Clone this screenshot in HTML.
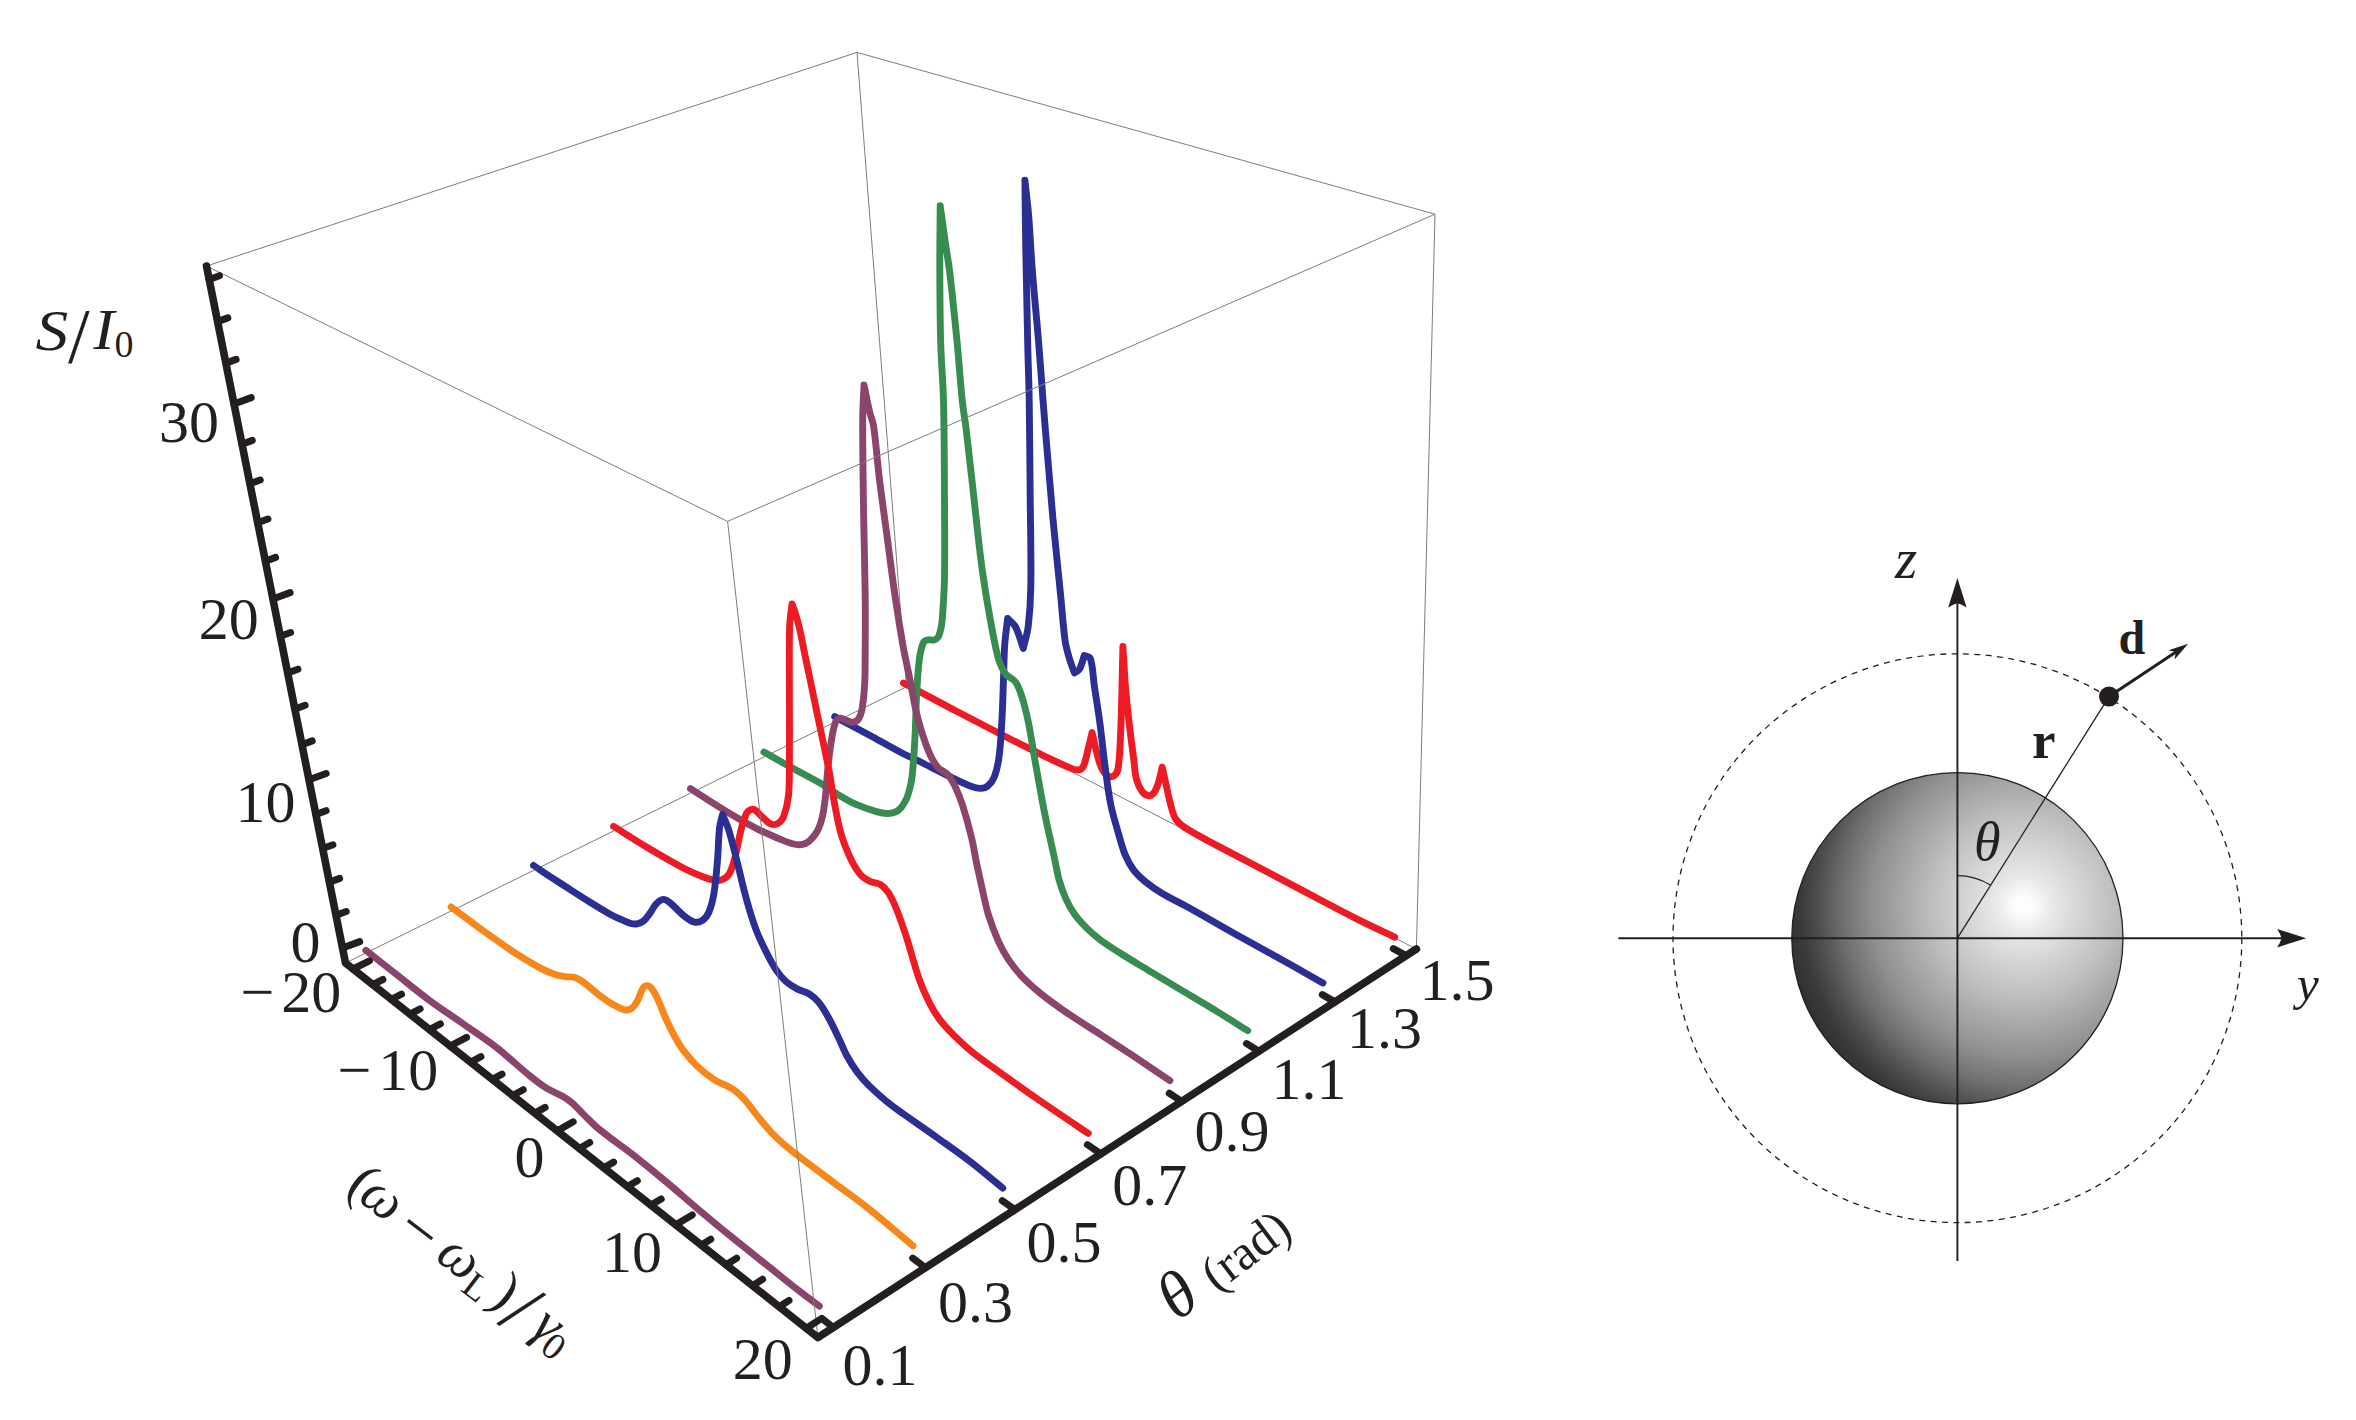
<!DOCTYPE html>
<html><head><meta charset="utf-8"><title>Figure</title>
<style>html,body{margin:0;padding:0;background:#fff;}svg{display:block;}</style>
</head><body>
<svg width="2356" height="1420" viewBox="0 0 2356 1420">
<rect width="2356" height="1420" fill="#ffffff"/>
<g id="boxback" fill="none">
<line x1="206.5" y1="266.0" x2="857.0" y2="52.4" stroke="#7d7d7d" stroke-width="1" />
<line x1="857.0" y1="52.4" x2="1435.0" y2="214.2" stroke="#7d7d7d" stroke-width="1" />
<line x1="857.0" y1="52.4" x2="906.5" y2="686.8" stroke="#7d7d7d" stroke-width="1" />
<line x1="1435.0" y1="214.2" x2="1416.4" y2="949.0" stroke="#7d7d7d" stroke-width="1" />
<line x1="345.5" y1="963.0" x2="906.5" y2="686.8" stroke="#7d7d7d" stroke-width="1" />
<line x1="906.5" y1="686.8" x2="1416.4" y2="949.0" stroke="#7d7d7d" stroke-width="1" />
</g>
<g id="curves" fill="none" stroke-width="6.9" stroke-linecap="round" stroke-linejoin="round">
<path d="M903.4 683.0C920.0 691.9 936.6 700.8 953.3 709.6C971.5 719.2 989.8 728.6 1008.2 738.0C1020.3 744.2 1032.5 750.3 1044.8 756.3C1052.7 760.1 1060.5 764.0 1068.6 767.3C1071.5 768.5 1074.9 770.2 1077.8 770.0C1079.8 769.9 1082.4 768.3 1083.3 766.4C1085.7 761.6 1086.5 755.4 1087.9 749.9C1089.4 744.1 1090.7 738.3 1092.1 732.5C1093.4 738.3 1094.6 744.2 1096.1 749.9C1097.7 756.1 1098.9 762.6 1101.6 768.2C1103.2 771.4 1106.1 774.8 1108.9 776.4C1110.3 777.2 1113.2 776.6 1114.4 775.5C1116.2 773.9 1117.7 770.9 1118.1 768.2C1119.6 759.3 1119.8 749.9 1120.3 740.7C1121.1 725.4 1121.4 710.2 1121.8 694.9C1122.2 678.7 1122.5 662.6 1122.9 646.4C1123.7 659.5 1124.3 672.7 1125.4 685.8C1126.4 698.0 1127.7 710.2 1129.1 722.4C1130.5 734.6 1132.1 746.8 1133.7 759.0C1134.6 765.7 1134.7 772.7 1136.4 779.2C1137.5 783.4 1139.4 787.7 1141.9 791.1C1143.4 793.2 1146.1 795.4 1148.3 795.7C1150.0 796.0 1152.6 794.4 1153.8 792.9C1156.0 790.2 1157.3 786.4 1158.4 782.9C1160.1 777.7 1160.9 772.3 1162.2 767.0C1163.4 772.3 1164.5 777.6 1165.7 782.9C1167.3 789.9 1168.6 797.1 1170.5 804.0C1171.9 809.2 1172.9 814.9 1175.8 819.2C1178.6 823.3 1183.2 826.6 1187.6 829.3C1198.4 836.1 1210.1 841.8 1221.4 847.9C1243.9 859.9 1266.5 871.6 1289.0 883.4C1311.6 895.2 1334.0 907.3 1356.7 918.9C1369.2 925.3 1382.0 931.1 1394.7 937.2" stroke="#ED1C24"/>
<path d="M834.7 716.6C846.3 722.8 858.0 728.9 869.6 735.2C880.4 741.1 891.0 747.3 901.9 753.0C906.7 755.5 911.7 757.6 916.6 760.0C928.9 766.0 941.0 772.4 953.3 778.3C959.3 781.2 965.4 784.2 971.6 786.5C974.5 787.6 977.7 788.6 980.7 788.4C983.2 788.3 986.2 787.3 988.1 785.6C990.8 783.3 993.2 779.8 994.5 776.4C996.8 770.4 998.1 763.7 999.0 757.2C1000.6 745.7 1001.1 734.0 1001.8 722.4C1002.7 707.1 1003.0 691.9 1003.6 676.6C1004.0 666.5 1003.9 656.4 1004.6 646.4C1005.2 637.1 1006.6 627.8 1007.6 618.5C1010.2 621.2 1013.7 623.4 1015.4 626.7C1018.9 633.4 1020.7 641.2 1023.3 648.4C1024.9 641.2 1027.3 634.0 1028.2 626.7C1029.8 613.7 1030.6 600.5 1030.8 587.3C1031.3 557.8 1030.5 528.2 1030.2 498.6C1029.9 465.7 1029.7 432.9 1029.2 400.0C1028.9 381.0 1028.1 362.1 1027.7 343.1C1027.0 312.6 1026.3 282.1 1025.8 251.6C1025.4 227.8 1025.2 203.9 1024.9 180.1C1026.1 191.7 1027.6 203.3 1028.6 214.9C1030.1 233.2 1030.9 251.6 1032.3 269.9C1034.2 294.3 1036.7 318.7 1038.7 343.1C1040.3 362.1 1041.5 381.0 1043.0 400.0C1044.3 416.4 1045.6 432.9 1047.0 449.3C1048.9 472.3 1050.8 495.3 1052.9 518.3C1055.4 544.6 1058.2 570.8 1060.8 597.1C1062.2 611.4 1063.1 625.8 1065.0 640.0C1065.7 645.5 1067.2 650.9 1068.7 656.2C1070.3 661.9 1072.5 667.4 1074.4 673.0C1076.1 671.7 1078.5 670.9 1079.5 669.1C1081.8 665.1 1082.7 660.0 1084.3 655.5C1086.3 656.6 1089.7 656.7 1090.4 658.7C1093.1 666.8 1093.0 676.8 1094.3 685.8C1096.1 698.0 1098.2 710.2 1099.8 722.4C1101.8 737.6 1103.3 753.0 1105.3 768.2C1106.9 780.4 1108.4 792.7 1110.8 804.8C1112.7 814.1 1115.5 823.2 1118.1 832.3C1120.3 839.8 1122.1 847.5 1125.1 854.7C1127.3 860.0 1130.1 865.3 1133.5 869.9C1136.8 874.3 1141.1 878.2 1145.4 881.7C1150.7 886.0 1156.4 890.0 1162.3 893.5C1170.5 898.4 1179.2 902.4 1187.6 907.1C1204.6 916.5 1221.3 926.3 1238.3 935.8C1255.1 945.2 1272.2 954.3 1289.0 963.7C1300.4 970.1 1311.6 976.6 1322.9 983.1" stroke="#2B2E92"/>
<path d="M763.9 752.1C772.1 756.7 780.3 761.4 788.6 766.0C799.4 771.9 810.4 777.4 821.0 783.5C826.5 786.7 831.5 790.7 837.0 794.0C843.4 797.8 849.9 801.7 856.7 804.7C863.0 807.5 869.7 809.7 876.4 811.6C880.2 812.7 884.3 813.7 888.2 813.5C891.6 813.3 895.5 812.6 898.1 810.6C901.5 808.0 904.0 803.6 906.0 799.7C907.9 796.1 908.8 791.9 909.9 787.9C910.8 784.5 911.6 780.9 912.0 777.4C913.3 765.2 914.1 752.9 914.8 740.7C915.7 725.4 915.8 710.2 916.6 694.9C917.1 685.7 917.6 676.4 918.5 667.2C919.0 661.8 919.6 656.3 920.8 651.0C921.5 647.7 922.4 644.1 924.1 641.5C924.8 640.4 926.6 640.0 928.0 639.8C929.9 639.5 932.2 640.5 934.0 640.0C935.6 639.6 937.3 638.4 938.2 637.0C939.6 634.7 940.2 631.7 940.8 629.0C941.7 625.0 942.2 620.9 942.5 616.8C943.4 603.7 944.3 590.5 944.5 577.4C944.9 551.1 944.6 524.9 944.5 498.6C944.3 465.7 944.3 432.9 943.5 400.0C943.0 381.0 941.2 362.1 940.7 343.1C940.0 318.7 939.9 294.3 939.8 269.9C939.7 248.5 940.1 227.2 940.2 205.8C941.9 218.0 943.6 230.2 945.3 242.4C946.8 252.8 948.7 263.1 949.9 273.5C952.6 296.7 954.9 319.9 957.2 343.1C959.0 362.0 960.2 381.1 962.2 400.0C963.2 409.9 965.0 419.7 966.2 429.6C969.0 452.6 971.4 475.6 974.0 498.6C976.6 521.6 978.8 544.6 981.9 567.5C984.1 584.0 986.9 600.4 989.8 616.8C992.1 630.0 994.6 643.2 997.7 656.2C998.7 660.3 1000.2 664.2 1002.0 668.0C1003.1 670.4 1004.6 672.9 1006.4 674.8C1009.1 677.6 1013.3 679.0 1015.5 682.1C1018.5 686.3 1020.3 691.7 1021.9 696.8C1024.6 705.2 1026.6 713.8 1028.4 722.4C1031.2 736.3 1033.2 750.5 1035.7 764.5C1038.7 781.0 1041.5 797.6 1044.8 814.0C1047.6 828.1 1051.0 842.1 1054.0 856.1C1055.8 864.2 1057.0 872.4 1059.2 880.3C1061.0 886.6 1063.2 892.9 1065.9 898.9C1068.3 904.2 1071.1 909.4 1074.4 914.1C1077.8 919.0 1082.0 923.4 1086.2 927.6C1090.4 931.8 1095.0 935.8 1099.8 939.4C1106.3 944.3 1113.1 948.6 1120.0 953.0C1130.0 959.4 1140.3 965.4 1150.5 971.6C1161.7 978.4 1173.0 985.1 1184.3 991.9C1195.6 998.6 1206.9 1005.2 1218.1 1012.1C1228.0 1018.2 1237.8 1024.5 1247.7 1030.7" stroke="#388C52"/>
<path d="M690.5 788.7C699.9 794.7 709.2 800.7 718.6 806.6C725.1 810.7 731.7 814.7 738.3 818.5C744.8 822.2 751.4 825.9 758.1 829.3C764.5 832.5 771.2 835.4 777.8 838.2C782.3 840.1 786.9 842.2 791.6 843.5C794.8 844.4 798.3 845.1 801.5 844.7C804.2 844.3 807.2 842.9 809.3 841.1C812.4 838.4 815.2 834.9 817.2 831.3C819.5 827.1 821.0 822.2 822.2 817.5C823.7 811.7 824.4 805.7 825.1 799.7C826.4 787.9 827.0 776.1 828.3 764.3C829.2 756.2 830.1 748.0 831.5 740.0C832.5 734.0 833.3 727.6 835.5 722.2C836.3 720.3 838.6 718.5 840.4 718.2C842.4 717.9 844.7 719.9 846.9 720.6C849.0 721.3 851.4 722.6 853.4 722.2C855.4 721.8 857.9 720.1 859.0 718.2C860.8 715.2 861.7 711.3 862.3 707.7C863.6 699.7 864.3 691.5 864.7 683.4C865.3 671.1 865.1 658.7 865.2 646.4C865.3 630.0 865.4 613.5 865.2 597.1C864.9 570.8 864.1 544.6 863.7 518.3C863.2 485.4 862.6 452.6 862.7 419.7C862.7 408.1 863.6 396.6 864.0 385.0C865.9 393.9 867.5 402.9 869.6 411.8C870.7 416.5 872.8 420.9 873.5 425.6C876.1 443.2 877.2 461.1 879.4 478.8C881.8 498.6 884.7 518.3 887.3 538.0C889.9 557.7 892.3 577.4 895.2 597.1C897.6 613.6 900.2 630.0 903.1 646.4C904.9 656.5 907.3 666.5 909.3 676.6C911.8 688.8 913.7 701.2 916.6 713.3C918.6 721.9 921.2 730.5 924.0 738.9C926.1 745.1 928.4 751.4 931.3 757.2C933.3 761.1 935.6 765.1 938.6 768.2C941.1 770.9 945.4 771.9 947.8 774.6C950.9 778.0 953.1 782.3 955.1 786.5C957.9 792.4 960.4 798.6 962.4 804.8C965.9 815.7 968.9 826.7 971.6 837.8C973.6 846.1 974.8 854.6 976.5 863.0C978.2 871.0 980.0 879.0 981.8 887.0C983.9 896.0 985.5 905.2 988.2 914.1C991.0 923.3 994.4 932.3 998.3 941.1C1001.2 947.5 1004.6 953.8 1008.5 959.7C1012.5 965.7 1017.1 971.4 1022.0 976.6C1027.8 982.7 1034.1 988.2 1040.6 993.5C1048.7 1000.1 1057.3 1006.2 1065.9 1012.1C1077.0 1019.7 1088.5 1026.8 1099.8 1034.1C1111.1 1041.4 1122.4 1048.7 1133.6 1056.1C1145.8 1064.2 1157.8 1072.4 1169.9 1080.6" stroke="#8B456D"/>
<path d="M613.6 826.4C624.6 833.3 635.4 840.4 646.5 847.0C658.6 854.2 670.8 861.4 683.2 868.0C689.1 871.1 695.3 873.8 701.5 876.3C705.6 877.9 710.0 879.5 714.3 880.3C716.7 880.7 719.4 880.8 721.6 879.9C724.3 878.8 727.3 876.9 728.9 874.4C731.6 870.2 733.0 864.8 734.4 859.8C737.3 848.9 738.9 837.7 741.8 826.8C743.2 821.8 744.6 816.2 747.3 812.2C748.5 810.4 751.8 808.8 753.7 809.4C756.7 810.3 759.1 814.3 761.9 816.7C764.9 819.2 767.7 822.8 771.1 824.1C773.2 824.9 776.5 824.4 778.4 823.2C780.8 821.7 782.9 818.6 783.9 815.8C786.2 809.5 787.8 802.5 788.5 795.7C789.6 785.3 789.3 774.8 789.4 764.3C789.6 742.7 789.4 721.2 789.4 699.6C789.4 678.0 789.2 656.4 789.4 634.8C789.5 629.4 789.7 624.0 790.2 618.6C790.6 613.7 791.5 608.9 792.1 604.0C793.4 607.8 794.8 611.5 795.9 615.3C797.4 620.1 798.8 625.0 799.9 629.9C801.7 638.0 803.1 646.1 804.8 654.2C807.5 667.2 810.2 680.1 812.9 693.1C815.6 706.0 818.3 719.0 821.0 731.9C823.7 744.9 826.6 757.8 829.1 770.8C830.9 780.5 832.1 790.3 833.9 800.0C836.0 811.1 837.8 822.4 840.9 833.3C843.4 842.1 846.9 850.7 850.8 858.9C853.5 864.5 856.6 870.1 860.6 874.7C863.2 877.7 866.9 879.8 870.5 881.6C873.5 883.1 877.6 882.8 880.4 884.5C883.5 886.4 886.2 889.4 888.2 892.4C891.4 897.3 893.9 902.8 896.1 908.2C899.8 917.2 903.0 926.5 906.0 935.8C910.6 949.9 914.0 964.3 918.9 978.3C921.7 986.4 925.2 994.3 929.0 1002.0C931.9 1007.9 935.3 1013.6 939.2 1018.9C943.2 1024.3 947.9 1029.3 952.7 1034.1C959.2 1040.6 965.9 1046.9 973.0 1052.7C981.1 1059.3 989.8 1065.2 998.3 1071.3C1011.8 1081.0 1025.3 1090.6 1038.9 1100.0C1055.3 1111.3 1071.8 1122.3 1088.3 1133.4" stroke="#ED1C24"/>
<path d="M533.6 865.5C539.6 869.5 545.6 873.6 551.7 877.6C558.0 881.7 564.4 885.8 570.7 889.9C577.0 894.0 583.3 898.1 589.7 902.0C596.0 905.9 602.3 909.8 608.7 913.4C612.8 915.7 617.1 917.7 621.4 919.7C624.5 921.1 627.6 922.7 630.9 923.5C632.9 924.0 635.2 924.2 637.2 923.8C639.4 923.4 641.8 922.4 643.6 921.0C646.1 919.0 648.0 916.0 649.9 913.4C652.2 910.3 653.6 906.6 656.2 903.9C658.1 901.9 660.8 899.6 663.2 899.4C665.4 899.2 668.0 901.2 670.0 902.8C674.8 906.6 678.7 911.6 683.5 915.5C686.6 918.0 690.1 920.9 693.7 921.9C696.3 922.6 699.9 922.0 702.1 920.6C704.9 918.8 707.5 915.4 708.9 912.1C711.4 906.3 712.9 899.8 713.9 893.5C715.8 882.1 716.6 870.5 717.6 858.9C718.5 848.4 718.4 837.8 719.6 827.3C720.1 823.0 721.5 818.8 722.5 814.5C724.5 819.4 726.9 824.2 728.5 829.3C731.5 839.0 733.9 849.0 736.4 858.9C739.8 872.0 742.6 885.3 746.2 898.3C749.1 908.9 752.3 919.6 756.1 929.9C758.9 937.3 762.4 944.5 766.0 951.6C769.0 957.6 772.1 963.7 775.8 969.3C778.6 973.6 781.9 977.8 785.7 981.2C789.2 984.4 793.4 986.9 797.5 989.1C801.2 991.1 805.8 991.7 809.3 994.0C813.0 996.3 816.5 999.5 819.2 1002.9C823.1 1007.7 826.1 1013.3 829.1 1018.7C832.7 1025.1 835.7 1031.8 838.9 1038.4C841.7 1044.2 843.9 1050.3 847.0 1056.0C850.0 1061.6 853.4 1067.0 857.2 1072.1C860.8 1076.9 864.8 1081.4 869.0 1085.6C874.3 1090.9 880.1 1096.0 885.9 1100.8C891.3 1105.3 897.1 1109.4 902.8 1113.5C914.0 1121.5 925.4 1129.2 936.6 1137.2C947.9 1145.3 959.4 1153.2 970.4 1161.7C981.4 1170.2 992.0 1179.3 1002.8 1188.1" stroke="#2B2E92"/>
<path d="M451.1 907.0C461.0 914.3 470.7 921.8 480.7 929.0C491.9 937.0 503.0 945.1 514.5 952.7C522.7 958.1 531.2 963.2 539.9 967.9C544.8 970.5 549.9 972.8 555.1 974.6C558.3 975.7 561.8 976.2 565.2 976.7C568.0 977.1 571.0 976.5 573.7 977.2C576.7 978.0 579.5 979.6 582.1 981.4C588.0 985.5 593.2 990.6 599.0 994.9C603.4 998.2 607.8 1001.4 612.5 1004.2C616.3 1006.4 620.3 1008.8 624.4 1009.8C626.5 1010.3 629.3 1009.9 631.1 1008.8C633.5 1007.2 635.5 1004.3 637.0 1001.7C639.4 997.5 640.5 992.2 643.0 988.2C643.9 986.9 645.8 985.6 647.2 985.6C648.6 985.6 650.4 986.9 651.4 988.2C653.8 991.2 655.6 994.8 657.3 998.3C660.7 1005.5 663.3 1013.1 666.6 1020.3C669.2 1026.0 672.0 1031.7 675.1 1037.2C677.7 1041.8 680.3 1046.5 683.5 1050.7C687.6 1056.1 692.1 1061.3 697.0 1065.9C702.2 1070.8 707.9 1075.5 713.9 1079.4C720.2 1083.5 727.6 1085.7 733.8 1089.9C738.2 1092.9 742.0 1096.8 745.6 1100.8C749.9 1105.6 753.4 1111.1 757.5 1116.1C761.9 1121.5 766.2 1127.0 771.0 1132.1C775.2 1136.6 779.8 1140.8 784.5 1144.8C790.0 1149.5 795.7 1153.9 801.4 1158.3C812.6 1166.9 823.9 1175.2 835.2 1183.7C846.5 1192.1 858.0 1200.2 869.0 1209.0C883.9 1220.9 898.3 1233.6 913.0 1245.9" stroke="#F6871A"/>
<path d="M365.8 950.3C375.6 958.0 385.3 965.7 395.1 973.4C406.4 982.2 417.4 991.4 428.9 999.9C439.9 1008.1 451.5 1015.6 462.7 1023.5C474.0 1031.5 485.6 1039.0 496.5 1047.5C508.0 1056.5 518.6 1066.8 530.0 1076.0C535.4 1080.4 541.0 1084.7 546.9 1088.4C552.3 1091.7 558.4 1093.8 563.8 1097.0C566.8 1098.8 569.6 1100.9 572.3 1103.2C575.3 1105.8 577.9 1108.7 580.7 1111.5C583.5 1114.3 586.3 1117.2 589.2 1120.0C592.0 1122.7 594.6 1125.5 597.6 1128.0C603.1 1132.5 608.8 1136.7 614.5 1141.0C620.1 1145.2 625.9 1149.2 631.4 1153.5C642.8 1162.5 654.1 1171.7 665.2 1181.0C676.1 1190.1 686.7 1199.6 697.6 1208.8C708.8 1218.2 720.1 1227.6 731.4 1236.8C742.6 1245.9 753.9 1254.8 765.2 1263.8C776.5 1272.8 787.6 1281.9 799.0 1290.8C805.7 1296.0 812.5 1301.0 819.3 1306.1" stroke="#8B456D"/>
</g>
<line x1="727.6" y1="521.4" x2="817.9" y2="1337.5" stroke="#7d7d7d" stroke-width="1" />
<line x1="1435.0" y1="214.2" x2="727.6" y2="521.4" stroke="#7d7d7d" stroke-width="1" />
<line x1="727.6" y1="521.4" x2="206.5" y2="266.0" stroke="#7d7d7d" stroke-width="1" />
<g id="ticks" stroke="#231F20" stroke-width="7" stroke-linecap="round">
<line x1="342.5" y1="948.0" x2="359.7" y2="941.6"/>
<line x1="336.0" y1="915.3" x2="346.2" y2="911.5"/>
<line x1="329.4" y1="882.2" x2="339.6" y2="878.4"/>
<line x1="322.7" y1="848.5" x2="332.9" y2="844.8"/>
<line x1="315.9" y1="814.4" x2="326.1" y2="810.7"/>
<line x1="309.0" y1="779.8" x2="326.1" y2="773.5"/>
<line x1="302.0" y1="744.7" x2="312.2" y2="740.9"/>
<line x1="294.9" y1="709.1" x2="305.1" y2="705.3"/>
<line x1="287.7" y1="672.9" x2="297.9" y2="669.2"/>
<line x1="280.3" y1="636.2" x2="290.6" y2="632.5"/>
<line x1="272.9" y1="599.0" x2="290.1" y2="592.6"/>
<line x1="265.4" y1="561.2" x2="275.6" y2="557.4"/>
<line x1="257.7" y1="522.8" x2="267.9" y2="519.0"/>
<line x1="249.9" y1="483.8" x2="260.2" y2="480.0"/>
<line x1="242.0" y1="444.2" x2="252.3" y2="440.4"/>
<line x1="234.0" y1="404.0" x2="251.2" y2="397.6"/>
<line x1="225.9" y1="363.1" x2="236.1" y2="359.4"/>
<line x1="217.6" y1="321.6" x2="227.8" y2="317.9"/>
<line x1="209.2" y1="279.5" x2="219.4" y2="275.7"/>
<line x1="353.0" y1="969.0" x2="369.4" y2="960.9"/>
<line x1="372.7" y1="984.6" x2="382.9" y2="979.5"/>
<line x1="391.3" y1="999.3" x2="401.5" y2="994.2"/>
<line x1="410.0" y1="1014.1" x2="420.1" y2="1008.9"/>
<line x1="429.4" y1="1029.5" x2="440.4" y2="1023.8"/>
<line x1="450.2" y1="1046.0" x2="466.6" y2="1037.3"/>
<line x1="470.7" y1="1062.2" x2="480.9" y2="1056.7"/>
<line x1="492.3" y1="1079.4" x2="502.0" y2="1074.1"/>
<line x1="512.7" y1="1095.5" x2="523.2" y2="1089.7"/>
<line x1="534.9" y1="1113.1" x2="545.1" y2="1107.4"/>
<line x1="557.3" y1="1130.9" x2="573.2" y2="1121.8"/>
<line x1="579.4" y1="1148.5" x2="589.7" y2="1142.5"/>
<line x1="603.8" y1="1167.8" x2="613.6" y2="1162.1"/>
<line x1="627.4" y1="1186.5" x2="637.3" y2="1180.7"/>
<line x1="650.9" y1="1205.1" x2="661.2" y2="1199.0"/>
<line x1="675.8" y1="1224.8" x2="692.2" y2="1214.9"/>
<line x1="701.3" y1="1245.0" x2="710.8" y2="1239.2"/>
<line x1="726.1" y1="1264.7" x2="736.6" y2="1258.2"/>
<line x1="752.5" y1="1285.7" x2="762.6" y2="1279.3"/>
<line x1="779.2" y1="1306.8" x2="789.0" y2="1300.5"/>
<line x1="806.3" y1="1328.3" x2="821.7" y2="1318.4"/>
<line x1="833.3" y1="1327.5" x2="822.9" y2="1319.3"/>
<line x1="925.5" y1="1267.7" x2="912.7" y2="1258.1"/>
<line x1="1014.8" y1="1209.7" x2="1002.2" y2="1200.7"/>
<line x1="1100.9" y1="1153.8" x2="1087.4" y2="1144.6"/>
<line x1="1181.7" y1="1101.4" x2="1169.3" y2="1093.3"/>
<line x1="1258.9" y1="1051.2" x2="1246.5" y2="1043.6"/>
<line x1="1334.9" y1="1001.9" x2="1322.3" y2="994.6"/>
<line x1="1406.2" y1="955.6" x2="1393.3" y2="948.6"/>
</g>
<polyline points="206.5,266.0 345.5,963.0 817.9,1337.5 1416.4,949.0" fill="none" stroke="#231F20" stroke-width="7.6" stroke-linecap="round" stroke-linejoin="round"/>
<g id="labels" fill="#231F20" font-family="'Liberation Serif', serif">
<text x="218.9" y="441.8" font-size="60" text-anchor="end"  >30</text>
<text x="258.7" y="638.5" font-size="60" text-anchor="end"  >20</text>
<text x="295.5" y="822.0" font-size="60" text-anchor="end"  >10</text>
<text x="320.6" y="962.0" font-size="60" text-anchor="end"  >0</text>
<text x="240.5" y="1011.8" font-size="60" text-anchor="start"  >−</text>
<text x="341.2" y="1011.8" font-size="60" text-anchor="end"  >20</text>
<text x="337.5" y="1090.0" font-size="60" text-anchor="start"  >−</text>
<text x="438.2" y="1090.0" font-size="60" text-anchor="end"  >10</text>
<text x="544.6" y="1176.5" font-size="60" text-anchor="end"  >0</text>
<text x="662.0" y="1272.0" font-size="60" text-anchor="end"  >10</text>
<text x="792.8" y="1378.5" font-size="60" text-anchor="end"  >20</text>
<text x="842.6" y="1384.7" font-size="60" text-anchor="start"  >0.1</text>
<text x="937.9" y="1321.8" font-size="60" text-anchor="start"  >0.3</text>
<text x="1026.5" y="1261.9" font-size="60" text-anchor="start"  >0.5</text>
<text x="1112.3" y="1204.6" font-size="60" text-anchor="start"  >0.7</text>
<text x="1194.5" y="1151.0" font-size="60" text-anchor="start"  >0.9</text>
<text x="1271.5" y="1099.3" font-size="60" text-anchor="start"  >1.1</text>
<text x="1347.0" y="1048.0" font-size="60" text-anchor="start"  >1.3</text>
<text x="1419.4" y="999.8" font-size="60" text-anchor="start"  >1.5</text>
<text transform="translate(35.5,349.5) scale(1.13,1)" font-size="58" font-style="italic">S</text>
<text x="68.0" y="361.5" font-size="78" text-anchor="start"  >/</text>
<text transform="translate(93.5,349) scale(1.08,1)" font-size="58" font-style="italic">I</text>
<text x="114.5" y="357.0" font-size="38" text-anchor="start"  >0</text>
<text transform="translate(1177.2,1321.9) rotate(-37)" font-size="66" font-style="italic">θ</text>
<text transform="translate(1216.7,1292.7) rotate(-37)" font-size="50">(rad)</text>
<text transform="translate(344.6,1190.4) rotate(37.5)" font-size="56"><tspan>(</tspan><tspan dx="-3.4" font-style="italic">ω</tspan><tspan dx="10.4" dy="7" font-size="66">−</tspan><tspan dx="9.9" dy="-7" font-style="italic">ω</tspan><tspan font-size="38" dy="9">L</tspan><tspan dx="5.3" dy="-9">)</tspan><tspan dx="2.3" font-size="80" dy="12.6">/</tspan><tspan dx="9" dy="-12.6" font-style="italic">γ</tspan><tspan dx="-3.2" font-size="38" dy="9">0</tspan></text>
</g>
<defs><radialGradient id="sph" gradientUnits="userSpaceOnUse" cx="2023.5" cy="905.2" r="240">
<stop offset="0" stop-color="#ffffff"/>
<stop offset="0.04" stop-color="#fcfcfc"/>
<stop offset="0.12" stop-color="#e8e8e8"/>
<stop offset="0.275" stop-color="#cfcfcf"/>
<stop offset="0.39" stop-color="#bdbdbd"/>
<stop offset="0.44" stop-color="#b3b3b3"/>
<stop offset="0.63" stop-color="#909090"/>
<stop offset="0.76" stop-color="#6e6e6e"/>
<stop offset="0.855" stop-color="#4f4f4f"/>
<stop offset="0.93" stop-color="#3a3a3a"/>
<stop offset="1.0" stop-color="#303030"/>
</radialGradient></defs>
<g id="right" fill="none" stroke="#231F20">
<circle cx="1957.4" cy="938.2" r="284.4" stroke-width="1.3" stroke-dasharray="6 5.4"/>
<circle cx="1957.4" cy="938.2" r="165.6" fill="url(#sph)" stroke-width="1.3"/>
<line x1="1618.4" y1="938.2" x2="2283" y2="938.2" stroke-width="1.9"/>
<line x1="1957.4" y1="1261.1" x2="1957.4" y2="602" stroke-width="1.9"/>
<path d="M2306.2 938.2 L2277.1 929.0 Q2280.5 934.2 2281.6 938.2 Q2280.5 942.2 2277.1 947.4 Z" fill="#231F20" stroke="none"/>
<path d="M1957.4 578.1 L1948.2 607.4 Q1953.4 604 1957.4 603.2 Q1961.4 604 1966.6 607.4 Z" fill="#231F20" stroke="none"/>
<line x1="1957.4" y1="938.2" x2="2109.0" y2="696.6" stroke-width="1.3"/>
<path d="M1957.4 875.6 A62.6 62.6 0 0 1 1990.7 885.2" stroke-width="1.2"/>
<circle cx="2109.0" cy="696.6" r="10" fill="#231F20" stroke="none"/>
<line x1="2109.0" y1="696.6" x2="2178.2" y2="650.4" stroke-width="3"/>
<path d="M2188.2 643.7 L2174.6 659.4 L2175.7 652.0 L2168.5 650.2 Z" fill="#231F20" stroke="none"/>
</g>
<g fill="#231F20" font-family="'Liberation Serif', serif">
<text x="1895.0" y="578.0" font-size="57" text-anchor="start" font-style="italic" >z</text>
<text x="2297.0" y="999.5" font-size="49" text-anchor="start" font-style="italic" >y</text>
<text x="1974.0" y="860.0" font-size="54" text-anchor="start" font-style="italic" >θ</text>
<text x="2118.5" y="653.5" font-size="48" text-anchor="start" font-weight="bold" >d</text>
<text x="2032.0" y="758.0" font-size="53" text-anchor="start" font-weight="bold" >r</text>
</g>
</svg>
</body></html>
